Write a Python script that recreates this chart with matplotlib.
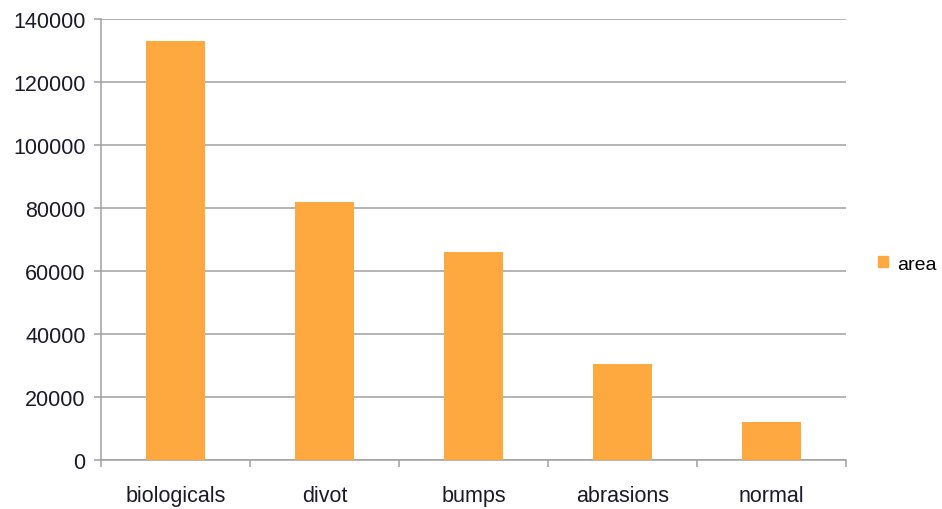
import matplotlib.pyplot as plt
import numpy as np
from matplotlib.patches import Patch

categories = ["biologicals", "divot", "bumps", "abrasions", "normal"]
area = [133000, 82000, 66000, 30400, 12000]
y_ticks = [0, 20000, 40000, 60000, 80000, 100000, 120000, 140000]

plt.rcParams['font.family'] = ['Liberation Sans', 'DejaVu Sans']

fig = plt.figure(figsize=(9.42, 5.10), dpi=100)
ax = fig.add_axes([101/942, 1 - 461/510, (846 - 101)/942, (461 - 20)/510])

x = np.arange(len(categories))
ax.bar(x, area, width=0.4, color='#FDA93F', zorder=3)

ax.set_xlim(-0.5, len(categories) - 0.5)
ax.set_ylim(0, 140000)
ax.set_yticks(y_ticks)
ax.set_yticklabels([str(v) for v in y_ticks], fontsize=15.5, color='#1a1a2a')
ax.yaxis.grid(True, color='#A0A0A0', linewidth=1.1, zorder=0)

# category labels in the middle, tick marks at the boundaries
ax.set_xticks(x)
ax.set_xticklabels(categories, fontsize=15.5, color='#1a1a2a')
ax.tick_params(axis='x', length=0, pad=18)
ax.set_xticks(np.arange(len(categories) + 1) - 0.5, minor=True)
ax.tick_params(axis='x', which='minor', length=5, color='#A0A0A0', width=1.1)
ax.tick_params(axis='y', length=5, color='#A0A0A0', width=1.1, pad=6)

for s in ['top', 'right']:
    ax.spines[s].set_visible(False)
for s in ['left', 'bottom']:
    ax.spines[s].set_color('#A0A0A0')
    ax.spines[s].set_linewidth(1.1)

fig.legend(handles=[Patch(color='#FDA93F', label='area')], loc='center left',
           bbox_to_anchor=(868/942, 1 - 265/510), frameon=False, fontsize=14,
           handlelength=0.55, handleheight=0.55, handletextpad=0.45,
           borderaxespad=0, borderpad=0.5)

fig.savefig('out.png', dpi=100)
